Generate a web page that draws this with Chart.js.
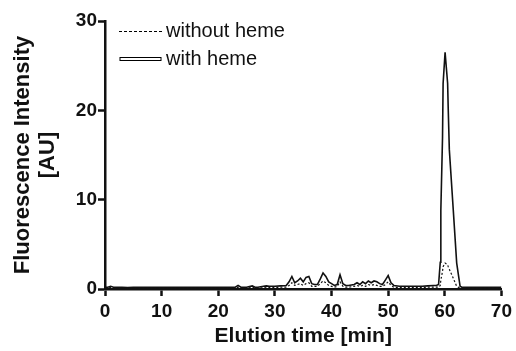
<!DOCTYPE html>
<html>
<head>
<meta charset="utf-8">
<script src="https://cdn.jsdelivr.net/npm/chart.js@4"></script>
<style>
  html, body { margin: 0; padding: 0; background: #fff; }
  #wrap { width: 516px; height: 351px; }
</style>
</head>
<body>
<div id="wrap"><canvas id="myChart" width="516" height="351"></canvas></div>
<script>
// elution time [min]
const times = [0, 0.5, 1, 1.5, 2, 3, 4, 5, 6, 8, 10, 12, 14, 16, 18, 20, 22, 23, 23.5, 24, 25, 26, 26.5, 27, 28, 28.5, 29, 30, 31, 32,
  32.5, 33, 33.5, 34, 34.5, 35, 35.5, 36, 36.5, 37, 37.5, 38, 38.5, 39, 39.5, 40, 40.5, 41, 41.5, 42, 42.5, 43, 44, 44.5, 45,
  45.5, 46, 46.5, 47, 47.5, 48, 48.5, 49, 49.5, 50, 50.5, 51, 52, 53, 54, 55, 56, 57, 58, 58.5, 58.9, 59.2, 59.3, 59.6, 59.7,
  60.05, 60.5, 60.6, 60.8, 61.5, 62.1, 62.7, 63, 64, 66, 68, 70];

// fluorescence intensity [AU]
const withHeme = [0.2, 0.2, 0.3, 0.2, 0.2, 0.2, 0.15, 0.2, 0.2, 0.2, 0.2, 0.2, 0.2, 0.2, 0.2, 0.2, 0.2, 0.2, 0.4, 0.2, 0.2, 0.35, 0.2, 0.2, 0.3, 0.35, 0.3, 0.3, 0.35, 0.4,
  0.8, 1.4, 0.7, 0.9, 1.2, 0.8, 1.3, 1.4, 0.6, 0.5, 0.5, 1.1, 1.8, 1.4, 0.8, 0.6, 0.4, 0.5, 1.6, 0.6, 0.4, 0.4, 0.5, 0.7, 0.5,
  0.8, 0.6, 0.9, 0.7, 0.9, 0.8, 0.6, 0.5, 1.0, 1.5, 0.7, 0.4, 0.3, 0.3, 0.3, 0.3, 0.3, 0.35, 0.4, 0.4, 0.5, 3.0, 8.8, 17, 23,
  26.5, 23, 20.3, 15.6, 8.8, 2.9, 0.3, 0.2, 0.2, 0.2, 0.2, 0.2];

const withoutHeme = [0.1, 0.1, 0.15, 0.1, 0.1, 0.1, 0.1, 0.1, 0.1, 0.1, 0.1, 0.1, 0.1, 0.1, 0.1, 0.1, 0.1, 0.1, 0.2, 0.1, 0.1, 0.2, 0.1, 0.1, 0.15, 0.2, 0.15, 0.15, 0.2, 0.2,
  0.4, 0.7, 0.4, 0.5, 0.6, 0.4, 0.6, 0.7, 0.3, 0.3, 0.3, 0.6, 0.9, 0.7, 0.4, 0.3, 0.2, 0.3, 0.8, 0.3, 0.2, 0.2, 0.3, 0.4, 0.3,
  0.4, 0.3, 0.5, 0.4, 0.5, 0.4, 0.3, 0.3, 0.5, 0.8, 0.4, 0.2, 0.15, 0.15, 0.15, 0.15, 0.15, 0.2, 0.2, 0.2, 0.2, 0.4, 1.0, 2.0, 2.5,
  2.9, 2.7, 2.5, 2.2, 1.2, 0.3, 0.1, 0.1, 0.1, 0.1, 0.1, 0.1];

const legendLabels = ['without heme', 'with heme'];
const xTicks = [0, 10, 20, 30, 40, 50, 60, 70];
const yTicks = [0, 10, 20, 30];

const FONT = "'Liberation Sans', Arial, sans-serif";

function toPoints(ys) {
  return times.map((t, i) => ({ x: t, y: ys[i] }));
}

// Legende selbst zeichnen (gestrichelt / Doppellinie)
const legendPlugin = {
  id: 'legendLines',
  afterDraw(chart) {
    const ctx = chart.ctx;
    ctx.save();
    ctx.strokeStyle = '#000';
    ctx.lineWidth = 1;
    ctx.setLineDash([3, 2]);
    ctx.beginPath();
    ctx.moveTo(119, 31.5);
    ctx.lineTo(163, 31.5);
    ctx.stroke();
    ctx.setLineDash([]);
    ctx.fillStyle = '#fff';
    ctx.fillRect(120, 57.5, 41, 3);
    ctx.strokeRect(120, 57.5, 41, 3);
    ctx.fillStyle = '#111';
    ctx.font = '20px ' + FONT;
    ctx.textBaseline = 'middle';
    ctx.fillText(legendLabels[0], 166, 31);
    ctx.fillText(legendLabels[1], 166, 59);
    ctx.restore();
  }
};

const canvas = document.getElementById('myChart');
const myChart = new Chart(canvas, {
  type: 'line',
  data: {
    datasets: [
      {
        label: legendLabels[0],
        data: toPoints(withoutHeme),
        borderColor: '#111',
        borderWidth: 1.2,
        borderDash: [2, 2],
        pointRadius: 0,
        tension: 0
      },
      {
        label: legendLabels[1],
        data: toPoints(withHeme),
        borderColor: '#111',
        borderWidth: 1.6,
        pointRadius: 0,
        tension: 0
      }
    ]
  },
  options: {
    responsive: false,
    animation: false,
    layout: { padding: { left: 0, top: 21, right: 9, bottom: 0 } },
    plugins: { legend: { display: false }, tooltip: { enabled: false } },
    scales: {
      x: {
        type: 'linear',
        min: 0,
        max: 70,
        afterBuildTicks: (s) => { s.ticks = xTicks.map(v => ({ value: v })); },
        afterFit: (s) => { s.height = 62; },
        grid: { drawOnChartArea: false, drawTicks: true, tickLength: 7, tickWidth: 2.5, tickColor: '#111' },
        border: { display: true, color: '#111', width: 2.5 },
        ticks: { color: '#111', font: { family: FONT, size: 19, weight: 'bold' }, padding: 4, maxRotation: 0 },
        title: {
          display: true,
          text: 'Elution time [min]',
          color: '#111',
          font: { family: FONT, size: 21, weight: 'bold', lineHeight: 1.2 },
          padding: { top: 0, bottom: 2 }
        }
      },
      y: {
        min: 0,
        max: 30,
        afterBuildTicks: (s) => { s.ticks = yTicks.map(v => ({ value: v })); },
        afterFit: (s) => { s.width = 105; },
        grid: { drawOnChartArea: false, drawTicks: true, tickLength: 7, tickWidth: 2.5, tickColor: '#111' },
        border: { display: true, color: '#111', width: 2.5 },
        ticks: { color: '#111', font: { family: FONT, size: 19, weight: 'bold' }, padding: 1 },
        title: {
          display: true,
          text: ['Fluorescence Intensity', '[AU]'],
          color: '#111',
          font: { family: FONT, size: 22, weight: 'bold', lineHeight: 1.14 },
          padding: { top: 10, bottom: 0 }
        }
      }
    }
  },
  plugins: [legendPlugin]
});
</script>
</body>
</html>
